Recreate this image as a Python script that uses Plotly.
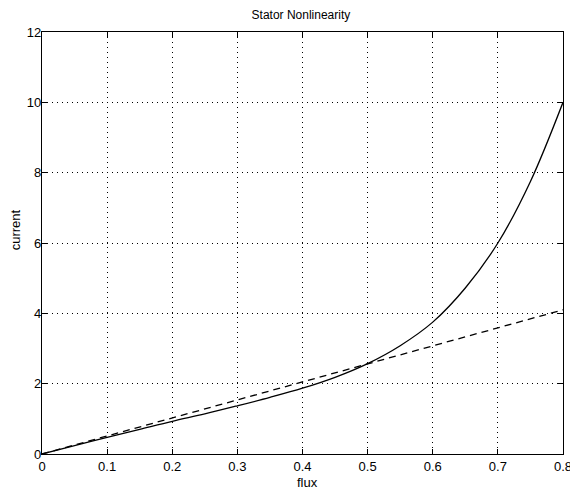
import plotly.graph_objects as go

flux = [0, 0.05, 0.1, 0.15, 0.2, 0.25, 0.3, 0.35, 0.4, 0.45, 0.5, 0.55, 0.6, 0.65, 0.7, 0.75, 0.8]
current_nonlinear = [0, 0.24, 0.47, 0.7, 0.93, 1.14, 1.37, 1.61, 1.87, 2.18, 2.57, 3.08, 3.75, 4.72, 6.0, 7.75, 10.0]
flux_linear = [0, 0.8]
current_linear = [0, 4.1]

x_ticks = [0, 0.1, 0.2, 0.3, 0.4, 0.5, 0.6, 0.7, 0.8]
x_ticklabels = ["0", "0.1", "0.2", "0.3", "0.4", "0.5", "0.6", "0.7", "0.8"]
y_ticks = [0, 2, 4, 6, 8, 10, 12]
y_ticklabels = ["0", "2", "4", "6", "8", "10", "12"]

fig = go.Figure()
fig.add_trace(go.Scatter(x=flux, y=current_nonlinear, mode="lines",
                         line=dict(color="black", width=1.3, shape="spline", smoothing=1.0),
                         showlegend=False))
fig.add_trace(go.Scatter(x=flux_linear, y=current_linear, mode="lines",
                         line=dict(color="black", width=1.3, dash="7px,5px"),
                         showlegend=False))

font = dict(family="Liberation Sans, Arial, sans-serif", size=13, color="black")
axis_common = dict(showline=True, linecolor="black", linewidth=1.2, mirror="ticks",
                   ticks="inside", ticklen=5, tickcolor="black",
                   showgrid=True, gridcolor="black", griddash="1px,4px", gridwidth=1,
                   zeroline=False, tickfont=font, automargin=False,
                   ticklabeloverflow="allow")

fig.update_layout(
    width=570, height=481,
    margin=dict(l=34, r=15, t=24, b=35),
    paper_bgcolor="white", plot_bgcolor="white",
    font=font,
    title=dict(text="Stator Nonlinearity", x=0.497, xanchor="center", y=0.985, yanchor="middle",
               xref="paper", font=dict(family=font["family"], size=12, color="black")),
    xaxis=dict(range=[0, 0.8], tickvals=x_ticks, ticktext=x_ticklabels, **axis_common),
    yaxis=dict(range=[0, 12], tickvals=y_ticks, ticktext=y_ticklabels,
               ticklabelstandoff=-3, **axis_common),
    annotations=[
        dict(text="flux", xref="paper", yref="paper", x=0.51, y=0, yshift=-28,
             xanchor="center", yanchor="middle", showarrow=False, font=font),
        dict(text="current", xref="paper", yref="paper", x=0, y=0.53, xshift=-27,
             xanchor="center", yanchor="middle", textangle=-90, showarrow=False, font=font),
    ],
)

fig.write_html("out.html")
